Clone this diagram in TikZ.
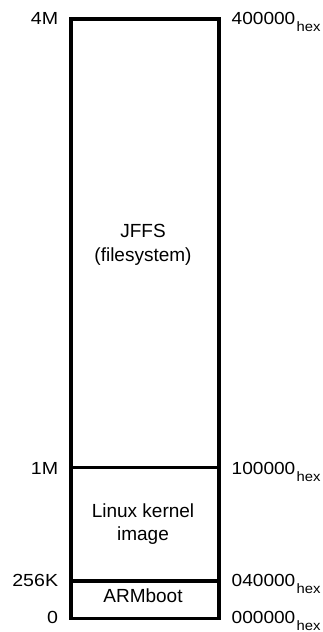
\documentclass[tikz,border=0pt]{standalone}
\usepackage{fontspec}
\setmainfont{Liberation Sans}
\newcommand\hexlbl[1]{\scalebox{1.09}[1]{#1\kern1.2pt\raisebox{-7.4pt}{\fontsize{13.6}{13.6}\selectfont hex}}}
\newcommand\sizelbl[1]{\scalebox{1.12}[1]{#1}}
\begin{document}
\begin{tikzpicture}[x=1pt,y=1pt,
  wall/.style={line width=3.2pt, line join=miter, line cap=rect},
  lbl/.style={inner sep=0pt, font=\fontsize{17.5}{17.5}\selectfont},
  region/.style={inner sep=0pt, align=center, font=\fontsize{19}{23.5}\selectfont}]
\useasboundingbox (0,0) rectangle (323,632);
% outline corners and boundaries
\coordinate (tl) at (71,613);
\coordinate (tr) at (219,613);
\coordinate (bl) at (71,13.5);
\coordinate (br) at (219,13.5);
\coordinate (ml) at (71,164.5);
\coordinate (mr) at (219,164.5);
\coordinate (kl) at (71,51);
\coordinate (kr) at (219,51);
\draw[wall] (tl) -- (tr) -- (br) -- (bl) -- cycle;
\draw[wall] (ml) -- (mr);
\draw[wall] (kl) -- (kr);
% region texts
\node[region] (jffs) at (143,387.4) {JFFS\\(filesystem)};
\node[region] (kernel) at (143,107.8) {Linux kernel\\image};
\node[region] (armboot) at (143,36.2) {ARMboot};
% left size labels
\node[lbl, anchor=base east] (s4m) at (58.3,607.7) {\sizelbl{4M}};
\node[lbl, anchor=base east] (s1m) at (58.3,157.5) {\sizelbl{1M}};
\node[lbl, anchor=base east] (s256k) at (58.3,45.5) {\sizelbl{256K}};
\node[lbl, anchor=base east] (s0) at (58.3,9) {\sizelbl{0}};
% right address labels
\node[lbl, anchor=base west] (a4m) at (231.5,607.7) {\hexlbl{400000}};
\node[lbl, anchor=base west] (a1m) at (231.5,157.5) {\hexlbl{100000}};
\node[lbl, anchor=base west] (a256k) at (231.5,45.5) {\hexlbl{040000}};
\node[lbl, anchor=base west] (a0) at (231.5,9) {\hexlbl{000000}};
\end{tikzpicture}
\end{document}
